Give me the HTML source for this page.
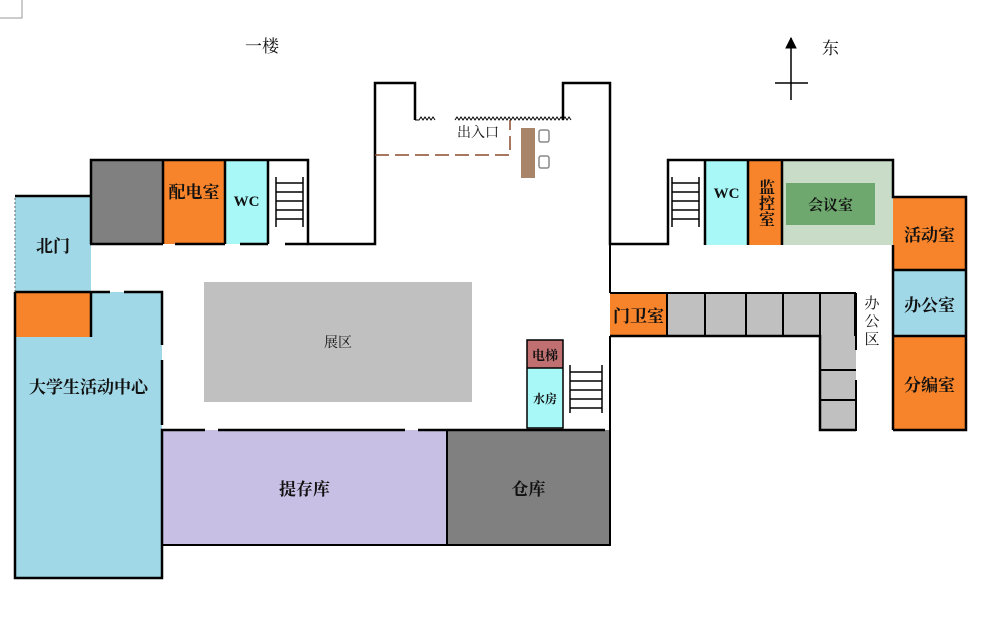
<!DOCTYPE html>
<html><head><meta charset="utf-8"><style>
body{margin:0;width:981px;height:637px;background:#fff;position:relative;overflow:hidden;font-family:"Liberation Serif","Noto Serif CJK SC","Noto Sans CJK SC",serif;}
.r{position:absolute;box-sizing:border-box;display:flex;align-items:center;justify-content:center;color:#111;font-size:17px;font-weight:bold;}
svg{position:absolute;left:0;top:0;}
</style></head><body>
<div class="r" style="left:15px;top:196px;width:76px;height:97px;background:#a0d8e8;">北门</div>
<div class="r" style="left:90px;top:160px;width:73px;height:84px;background:#808080;"></div>
<div class="r" style="left:163px;top:160px;width:62px;height:84px;background:#f7832a;align-items:flex-start;padding-top:18px;">配电室</div>
<div class="r" style="left:225px;top:160px;width:43px;height:84px;background:#a8f8f8;font-size:15px;">WC</div>
<div class="r" style="left:705px;top:160px;width:43px;height:85px;background:#a8f8f8;font-size:15px;align-items:flex-start;padding-top:26px;">WC</div>
<div class="r" style="left:748px;top:160px;width:34px;height:85px;background:#f7832a;writing-mode:vertical-rl;font-size:16px;">监控室</div>
<div class="r" style="left:782px;top:160px;width:111px;height:85px;background:#c8dcc8;"></div>
<div class="r" style="left:786px;top:183px;width:89px;height:42px;background:#6ea86e;font-size:15px;">会议室</div>
<div class="r" style="left:893px;top:197px;width:73px;height:73px;background:#f7832a;">活动室</div>
<div class="r" style="left:893px;top:270px;width:73px;height:66px;background:#a0d8e8;">办公室</div>
<div class="r" style="left:893px;top:336px;width:73px;height:94px;background:#f7832a;">分编室</div>
<div class="r" style="left:610px;top:293px;width:57px;height:43px;background:#f7832a;">门卫室</div>
<div class="r" style="left:667px;top:293px;width:189px;height:43px;background:#c0c0c0;"></div>
<div class="r" style="left:820px;top:336px;width:36px;height:94px;background:#c0c0c0;"></div>
<div class="r" style="left:204px;top:282px;width:268px;height:120px;background:#c0c0c0;font-size:14px;font-weight:normal;">展区</div>
<div class="r" style="left:15px;top:292px;width:147px;height:286px;background:#a0d8e8;padding-bottom:100px;">大学生活动中心</div>
<div class="r" style="left:15px;top:292px;width:76px;height:45px;background:#f7832a;"></div>
<div class="r" style="left:162px;top:430px;width:285px;height:115px;background:#c8c0e4;">提存库</div>
<div class="r" style="left:447px;top:430px;width:163px;height:115px;background:#808080;">仓库</div>
<div class="r" style="left:527px;top:340px;width:36px;height:28px;background:#c07070;font-size:13px;">电梯</div>
<div class="r" style="left:527px;top:368px;width:36px;height:60px;background:#a8f8f8;font-size:12px;">水房</div>
<div class="r" style="left:521px;top:128px;width:14px;height:50px;background:#a88468;"></div>
<div class="r" style="left:457px;top:122px;font-size:14px;font-weight:normal;">出入口</div>
<div class="r" style="left:245px;top:32px;font-size:17px;font-weight:normal;">一楼</div>
<div class="r" style="left:822px;top:34px;font-size:17px;font-weight:normal;">东</div>
<div class="r" style="left:861px;top:295px;width:20px;writing-mode:vertical-rl;font-size:15px;font-weight:normal;letter-spacing:3px;">办公区</div>
<svg width="981" height="637" fill="none" stroke="#000" stroke-width="2.5">
<path d="M0 18H22V0" stroke="#999" stroke-width="1"/>
<path d="M91 244V160H308V244H375V83H415V120M563 120V83H610V244H668V160H893V197H966V430H893M856 430H820V336H610"/>
<path d="M163 160V244M225 160V244M268 160V244M705 160V245M748 160V245M782 160V245M893 245V270M893 270H966M893 336H966M893 336V430M893 270V336"/>
<path d="M90 244H163M175 244H225M240 244H268M285 244H308" />
<path d="M15 196H91M15 292H91V337M15 292V578H162V430H205M218 430H405M418 430H605M162 292V300M91 292H110M124 292H162V345M162 360V425" />
<path d="M447 430V545H162M447 545H610V430M610 293H855V336M667 293V336M705 293V336M746 293V336M783 293V336M820 293V336M820 370H856M820 400H856M820 430H856V380M856 293V350" stroke-width="2"/>
<path d="M527 340H563V428H527ZM527 368H563" stroke-width="1.5"/>
<path d="M610 336V430M610 244V293" stroke-width="2"/>
<path d="M276 177V227M303 177V227M276 183H303M276 192H303M276 201H303M276 210H303M276 219H303" stroke-width="1.5"/>
<path d="M672 177V227M699 177V227M672 183H699M672 192H699M672 201H699M672 210H699M672 219H699" stroke-width="1.5"/>
<path d="M570 365V413M602 365V413M570 372H602M570 381H602M570 390H602M570 399H602M570 408H602" stroke-width="1.5"/>
<path d="M375 155H510V120" stroke="#8a4a2a" stroke-width="1.5" stroke-dasharray="14 6"/>
<path d="M415 120h4l2-3 2 3 2-3 2 3 2-3 2 3 2-3 2 3M455 120l2-3 2 3 2-3 2 3 2-3 2 3 2-3 2 3 2-3 2 3 2-3 2 3 2-3 2 3 2-3 2 3 2-3 2 3 2-3 2 3 2-3 2 3 2-3 2 3 2-3 2 3 2-3 2 3 2-3 2 3 2-3 2 3 2-3 2 3 2-3 2 3 2-3 2 3 2-3 2 3 2-3 2 3 2-3 2 3 2-3 2 3 2-3 2 3 2-3 2 3 2-3 2 3 2-3 2 3 2-3 2 3 2-3 2 3" stroke-width="1"/>
<path d="M15 198v94" stroke="#666" stroke-width="1" stroke-dasharray="2 2"/>
<rect x="539" y="130" width="10" height="12" rx="2" stroke="#888" stroke-width="1.5"/>
<rect x="539" y="156" width="10" height="12" rx="2" stroke="#888" stroke-width="1.5"/>
<path d="M791 38V100M775 83H808" stroke-width="1.5"/>
<path d="M786 48L791 38L796 48Z" fill="#000" stroke-width="1"/>
</svg>
</body></html>
